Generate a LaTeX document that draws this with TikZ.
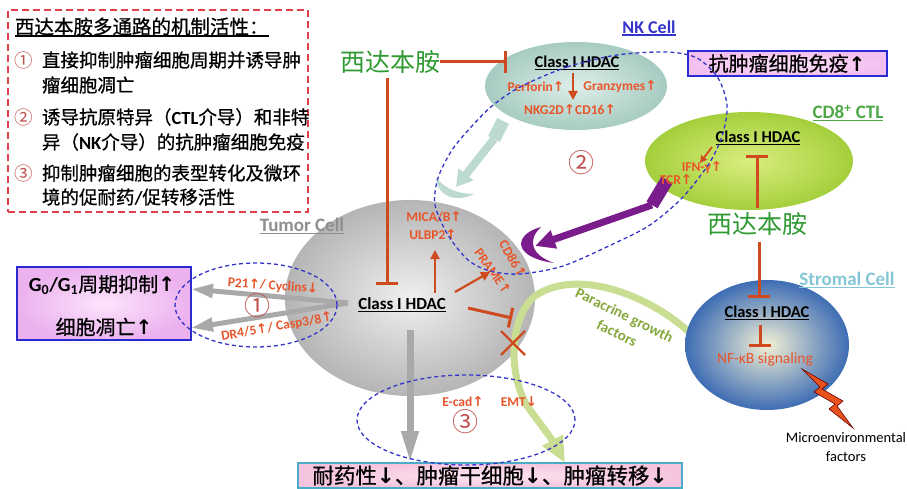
\documentclass[tikz,border=0pt]{standalone}
\usepackage{fontspec}
\setmainfont{Carlito}
\newfontfamily\cjk{Noto Sans CJK SC}
\newfontfamily\cjkh{Noto Sans CJK SC}[FakeBold=0.7]
\newfontfamily\sym{DejaVu Sans}
\usetikzlibrary{arrows.meta,shapes.geometric}

\definecolor{hdred}{HTML}{CF4A1E}
\definecolor{txtred}{HTML}{E8552A}
\definecolor{drug}{HTML}{2F9A32}
\definecolor{dashblue}{HTML}{3535C9}
\definecolor{numred}{HTML}{C0504D}
\definecolor{legred}{HTML}{E0404A}
\definecolor{purp}{HTML}{7A1C8C}
\definecolor{paleteal}{HTML}{BCDAD2}
\definecolor{bandgreen}{HTML}{C9DD93}
\definecolor{paratext}{HTML}{86A83E}
\definecolor{ctlgreen}{HTML}{4FA848}
\definecolor{stromtxt}{HTML}{85C6D6}
\definecolor{tumtxt}{HTML}{8E8E8E}
\definecolor{nkblue}{HTML}{3434CC}
\definecolor{boltred}{HTML}{E8501C}
\definecolor{arrgray}{HTML}{A9A9A9}
\definecolor{boxblue}{HTML}{2A2AD2}
\definecolor{boxteal}{HTML}{4BACC6}

\newcommand\up{{\sym\bfseries ↑}}
\newcommand\dn{{\sym\bfseries ↓}}
% underline with a fixed offset and thickness
\newcommand\hul[1]{\setbox0=\hbox{#1}\rlap{\rule[-2.6pt]{\wd0}{1.2pt}}\box0}

\begin{document}
\begin{tikzpicture}[x=1pt,y=-1pt,
  every node/.style={inner sep=0pt,outer sep=0pt},
  legtxt/.style={anchor=west,font=\cjkh\fontsize{18.5}{20}\selectfont},
  legnum/.style={font=\cjk\fontsize{18.5}{20}\selectfont,text=numred},
  bignum/.style={font=\cjk\fontsize{26}{28}\selectfont,text=numred},
  drugtxt/.style={font=\cjk\fontsize{25}{27}\selectfont,text=drug},
  hdac/.style={font=\fontsize{16.5}{18}\selectfont\bfseries},
  rtxt/.style={font=\fontsize{13.5}{15}\selectfont\bfseries,text=txtred},
  celllabel/.style={font=\fontsize{19}{21}\selectfont\bfseries},
  inh/.style={draw=hdred,line width=3pt,-{Bar[width=22pt,line width=3pt]}},
  act/.style={draw=hdred,line width=2.2pt,-{Triangle[length=9pt,width=9pt]}},
  bdash/.style={draw=dashblue,line width=1.3pt,dash pattern=on 4pt off 3pt},
  grayarr/.style={draw=arrgray,line width=5pt,-{Triangle[length=22pt,width=13pt]}},
]
\useasboundingbox (0,0) rectangle (907,489);

% ---------- legend ----------
\node[draw=legred,line width=1.8pt,dash pattern=on 7pt off 4pt,
      minimum width=300pt,minimum height=202pt] (legend) at (158,111) {};
\node[anchor=west,font=\cjkh\fontsize{19.5}{21}\selectfont] (legtitle) at (15,27)
  {\hul{西达本胺多通路的机制活性：}};
\node[legnum] (n1) at (24,60) {①};
\node[legtxt] (l1a) at (42,60) {直接抑制肿瘤细胞周期并诱导肿};
\node[legtxt] (l1b) at (42,85) {瘤细胞凋亡};
\node[legnum] (n2) at (24,117) {②};
\node[legtxt] (l2a) at (42,117) {诱导抗原特异（{\rmfamily\bfseries CTL}介导）和非特};
\node[legtxt] (l2b) at (42,142) {异（{\rmfamily\bfseries NK}介导）的抗肿瘤细胞免疫};
\node[legnum] (n3) at (24,173) {③};
\node[legtxt] (l3a) at (42,173) {抑制肿瘤细胞的表型转化及微环};
\node[legtxt] (l3b) at (42,197) {境的促耐药{\rmfamily\bfseries /}促转移活性};

% ---------- cells ----------
\node[ellipse,inner color=black!6,outer color=black!29,
      minimum width=250pt,minimum height=196pt] (tumor) at (410,298) {};
\node[ellipse,inner color={rgb,255:red,222;green,238;blue,233},
      outer color={rgb,255:red,166;green,203;blue,193},
      minimum width=182pt,minimum height=88pt] (nk) at (576,86) {};
\node[ellipse,inner color={rgb,255:red,218;green,238;blue,126},
      outer color={rgb,255:red,164;green,207;blue,60},
      minimum width=208pt,minimum height=98pt] (ctl) at (749,161) {};

% paracrine growth factor band
\coordinate (parA) at (697,340);
\coordinate (parB) at (565,463);
\draw[draw=bandgreen,line width=7pt,-{Triangle[length=26pt,width=22pt]}]
  (parA) .. controls (660,300) and (580,265) .. (535,296)
         .. controls (508,318) and (508,380) .. (530,410)
         .. controls (542,426) and (553,441) .. (parB);

\node[ellipse,inner color={rgb,255:red,243;green,241;blue,214},
      outer color={rgb,255:red,62;green,109;blue,180},
      minimum width=164pt,minimum height=130pt] (strom) at (767,345) {};

% NK -> tumor pale arrow
\coordinate (nkt1) at (503,121);
\coordinate (nkt2) at (494,139);
\coordinate (nkhead) at (456,187);
\draw[draw=paleteal,line width=13pt] (nkt1) -- (nkt2);
\draw[draw=paleteal,line width=8pt,-{Triangle[length=16pt,width=18pt]}] (nkt2) -- (nkhead);
\fill[paleteal] (436,178) .. controls (438,197) and (456,203) .. (474,194)
               .. controls (458,194) and (446,189) .. (436,178) -- cycle;

% CTL -> tumor purple arrow
\coordinate (tcr1) at (667,180);
\coordinate (tcr2) at (652,205);
\coordinate (purhead) at (535,246);
\draw[draw=purp,line width=13pt] (tcr1) -- (tcr2);
\draw[draw=purp,line width=7pt,-{Triangle[length=20pt,width=18pt]}] (tcr2) -- (purhead);
\fill[purp] (541,227) .. controls (514,234) and (511,257) .. (554,263)
           .. controls (531,255) and (527,240) .. (541,227) -- cycle;

% ---------- boxes ----------
\node[draw=boxblue,line width=2pt,inner color={rgb,255:red,252;green,228;blue,251},
      outer color={rgb,255:red,236;green,178;blue,239},
      minimum width=174pt,minimum height=73pt] (gbox) at (104,303.5) {};
\node[font=\fontsize{20}{22}\selectfont] (gtxt1) at (102,285)
  {{\bfseries G\textsubscript{0}/G\textsubscript{1}}{\cjkh 周期抑制}\up};
\node[font=\cjkh\fontsize{20}{22}\selectfont] (gtxt2) at (104,327) {细胞凋亡\up};

\node[draw=boxblue,line width=2pt,inner color={rgb,255:red,251;green,226;blue,249},
      outer color={rgb,255:red,243;green,190;blue,240},
      minimum width=199pt,minimum height=25pt,font=\cjkh\fontsize{20}{22}\selectfont]
  (immbox) at (787,63.5) {抗肿瘤细胞免疫\up};

\node[draw=boxteal,line width=1.8pt,inner color={rgb,255:red,252;green,228;blue,240},
      outer color={rgb,255:red,246;green,196;blue,222},
      minimum width=384pt,minimum height=25pt,font=\cjkh\fontsize{21.5}{23}\selectfont]
  (outbox) at (490,475.5) {耐药性\dn、肿瘤干细胞\dn、肿瘤转移\dn};

% ---------- labels ----------
\node[drugtxt] (drugA) at (390,62) {西达本胺};
\node[drugtxt] (drugB) at (757,224) {西达本胺};

\node[celllabel,text=tumtxt] (tumlab) at (302,226) {\hul{Tumor Cell}};
\node[font=\fontsize{18}{20}\selectfont\bfseries,text=nkblue] (nklab) at (649,28) {\hul{NK Cell}};
\node[celllabel,text=ctlgreen] (ctllab) at (848,113) {\hul{CD8\textsuperscript{+} CTL}};
\node[celllabel,text=stromtxt] (stlab) at (847,280) {\hul{Stromal Cell}};

\node[hdac] (nkhdac) at (577,63) {\hul{Class I HDAC}};
\node[rtxt] (perf) at (536,87) {Perforin\up};
\node[rtxt] (gran) at (620,87) {Granzymes\up};
\node[rtxt] (nkg) at (570,110) {NKG2D\up CD16\up};

\node[hdac] (ctlhdac) at (758,138) {\hul{Class I HDAC}};
\node[rtxt] (ifn) at (702,168) {IFN-γ\up};
\node[rtxt] (tcr) at (676,180) {TCR\up};

\node[font=\fontsize{17}{19}\selectfont\bfseries] (hdacT) at (402,305) {\hul{Class I HDAC}};
\node[rtxt] (micab) at (434,217) {MICA/B\up};
\node[rtxt] (ulbp) at (433,235) {ULBP2\up};
\node[rtxt,rotate=-60] (cd86) at (513,259) {CD86\up};
\node[rtxt,rotate=-55] (prame) at (493,271) {PRAME\up};
\node[rtxt,rotate=-4] (p21) at (273,286) {P21\up/ Cyclins\dn};
\node[rtxt,rotate=10] (dr) at (277,327) {DR4/5\up/ Casp3/8\up};
\node[rtxt] (ecad) at (463,402) {E-cad\up};
\node[rtxt] (emt) at (519,402) {EMT\dn};

\node[hdac] (strhdac) at (767,313) {\hul{Class I HDAC}};
\node[font=\fontsize{15.5}{17}\selectfont,text=txtred] (nfkb) at (765,359) {NF-κB signaling};
\node[align=center,font=\fontsize{14.5}{19}\selectfont] (micro) at (846,447) {Microenvironmental\\factors};

\node[rotate=-26,font=\fontsize{15}{17}\selectfont\bfseries,text=paratext]
  (para1) at (624,316) {Paracrine growth};
\node[rotate=-26,font=\fontsize{15}{17}\selectfont\bfseries,text=paratext]
  (para2) at (617,333) {factors};

% ---------- inhibition bars ----------
\coordinate (nkbar) at (507,62);
\draw[inh] (drugA.east) -- (nkbar);
\coordinate (tubar) at (387,285);
\draw[inh,shorten <=4pt] (drugA.south -| tubar) -- (tubar);
\coordinate (ctlbar) at (757,155);
\draw[inh,shorten <=4pt] (drugB.north) -- (ctlbar);
\coordinate (strbar) at (759,298);
\draw[inh,shorten <=6pt] (drugB.south -| strbar) -- (strbar);
\coordinate (nfbar) at (760,347);
\draw[inh,shorten <=5pt] (strhdac.south -| nfbar) -- (nfbar);
\coordinate (tu3) at (468,308);
\coordinate (emtbar) at (512,318);
\draw[draw=hdred,line width=3pt,-{Bar[width=20pt,line width=3pt]}] (tu3) -- (emtbar);

% ---------- activation arrows ----------
\coordinate (nkdown) at (573,100);
\draw[act,shorten <=3pt] (nkhdac.south -| nkdown) -- (nkdown);
\coordinate (tu1) at (435,293);
\coordinate (micaend) at (435,250);
\draw[act] (tu1) -- (micaend);
\coordinate (tu2) at (455,292);
\coordinate (prameend) at (490,272);
\draw[act] (tu2) -- (prameend);
\coordinate (ifn1) at (712,147);
\coordinate (ifn2) at (700,163);
\draw[draw=hdred,line width=1.8pt,-{Triangle[length=7pt,width=7pt]}] (ifn1) -- (ifn2);

% blocked transition
\coordinate (xmark) at (513,343);
\draw[hdred,line width=2.2pt] (501,331) -- (525,355) (501,355) -- (525,331);

% ---------- gray output arrows ----------
\coordinate (gsrc) at (348,303);
\coordinate (gup) at (191,289);
\coordinate (glow) at (191,328);
\draw[grayarr] (gsrc) -- (gup);
\draw[grayarr] (gsrc) -- (glow);
\coordinate (gd1) at (410,330);
\coordinate (gd2) at (410,463);
\draw[grayarr,line width=7pt,-{Triangle[length=32pt,width=16pt]}] (gd1) -- (gd2);

% ---------- microenvironment bolt ----------
\filldraw[fill=boltred,draw=black!60!red,line width=0.6pt]
  (802,369) -- (828,384) -- (822,389) -- (843,401) -- (837,406) -- (853,428)
  -- (829,409) -- (835,404) -- (814,392) -- (820,387) -- cycle;

% ---------- dashed groupings ----------
\node[ellipse,bdash,minimum width=162pt,minimum height=84pt] (ring1) at (256,305) {};
\node[ellipse,bdash,minimum width=218pt,minimum height=90pt] (ring3) at (466,420) {};
\draw[bdash] plot[smooth cycle] coordinates {
  (520,87) (567,67) (617,55) (667,52) (697,58) (718,78) (727,105) (723,133)
  (710,162) (683,197) (650,225) (613,244) (563,266) (520,274) (490,271)
  (468,260) (448,235) (435,205) (438,178) (452,150) (472,126) (492,106)};

\node[bignum] (c1) at (257,306) {①};
\node[bignum] (c2) at (581,163) {②};
\node[bignum] (c3) at (465,422) {③};
\end{tikzpicture}
\end{document}
